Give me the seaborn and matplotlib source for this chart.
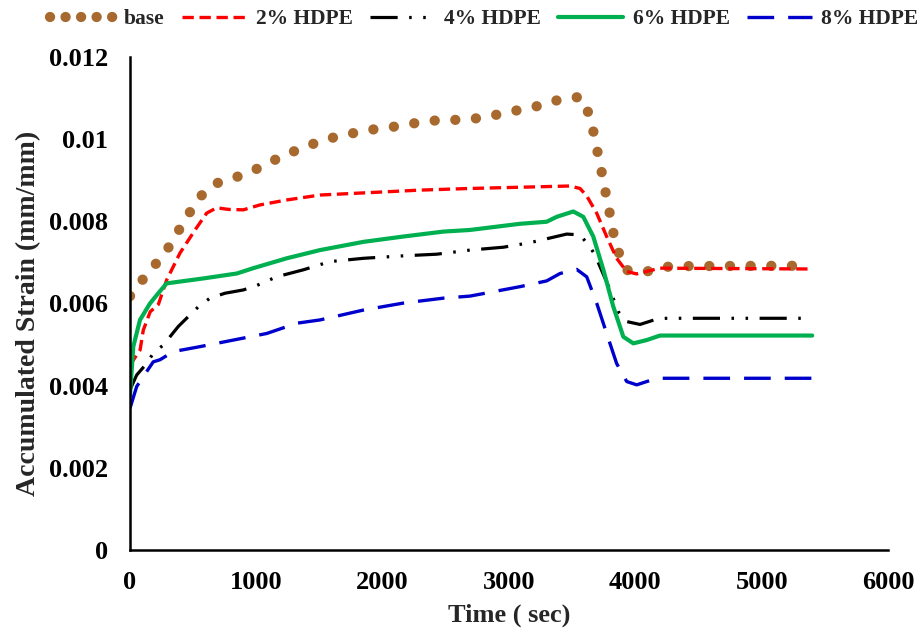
import matplotlib
matplotlib.use("Agg")
import matplotlib.pyplot as plt
from matplotlib.lines import Line2D
import seaborn as sns
import pandas as pd

# ---- data ----
base_t = [0, 100, 203, 298, 382, 465, 552, 667, 818, 966, 1108, 1253, 1401, 1551, 1702, 1855, 2013,
          2169, 2325, 2480, 2641, 2800, 2955, 3108, 3264, 3414, 3570, 3636, 3673, 3704, 3736, 3766,
          3797, 3826, 3868, 3918, 4069, 4219, 4377, 5400]
base_v = [0.00618, 0.00658, 0.00696, 0.00733, 0.00776, 0.00818, 0.00859, 0.00891, 0.00905, 0.00922,
          0.00944, 0.00965, 0.00983, 0.01000, 0.01010, 0.01021, 0.01027, 0.01034, 0.01043, 0.01047,
          0.01047, 0.01053, 0.01063, 0.01073, 0.01083, 0.01098, 0.01103, 0.01059, 0.01012, 0.00964,
          0.00916, 0.00868, 0.00820, 0.00772, 0.00725, 0.00682, 0.00676, 0.00689, 0.00691, 0.00692]

hdpe2_t = [0, 80, 105, 160, 225, 290, 396, 515, 607, 686, 780, 897, 1029, 1240, 1504, 1900, 2296,
           2691, 3087, 3483, 3562, 3615, 3694, 3773, 3852, 3931, 4010, 4195, 5400]
hdpe2_v = [0.00450, 0.00487, 0.00535, 0.00580, 0.00598, 0.00657, 0.00723, 0.00779, 0.00820, 0.00833,
           0.00829, 0.00828, 0.00840, 0.00852, 0.00864, 0.00870, 0.00876, 0.00880, 0.00883, 0.00886,
           0.00880, 0.00862, 0.00820, 0.00763, 0.00710, 0.00678, 0.00672, 0.00686, 0.00684]

hdpe4_t = [0, 53, 132, 184, 264, 382, 461, 541, 633, 752, 897, 997, 1161, 1372, 1583, 1847, 2163,
           2428, 2691, 2955, 3166, 3457, 3562, 3641, 3681, 3720, 3800, 3865, 3932, 4037, 4169, 4248, 5400]
hdpe4_v = [0.00390, 0.00426, 0.00454, 0.00479, 0.00499, 0.00544, 0.00568, 0.00592, 0.00613, 0.00625,
           0.00633, 0.00643, 0.00665, 0.00682, 0.00702, 0.00710, 0.00716, 0.00720, 0.00730, 0.00737,
           0.00748, 0.00769, 0.00767, 0.00738, 0.00718, 0.00690, 0.00633, 0.00580, 0.00556, 0.00549,
           0.00562, 0.00564, 0.00564]

hdpe6_t = [0, 26, 79, 158, 224, 290, 580, 845, 976, 1240, 1504, 1847, 2163, 2480, 2691, 3087, 3298,
           3378, 3509, 3588, 3667, 3747, 3826, 3905, 3984, 4090, 4195, 5400]
hdpe6_v = [0.00377, 0.00495, 0.00560, 0.00600, 0.00625, 0.00649, 0.00661, 0.00673, 0.00686, 0.00710,
           0.00730, 0.00750, 0.00763, 0.00775, 0.00779, 0.00794, 0.00799, 0.00811, 0.00824, 0.00811,
           0.00763, 0.00682, 0.00592, 0.00519, 0.00503, 0.00511, 0.00522, 0.00522]

hdpe8_t = [0, 53, 105, 184, 237, 343, 554, 818, 1082, 1320, 1504, 1847, 2163, 2480, 2691, 3087, 3298,
           3404, 3536, 3615, 3694, 3773, 3852, 3932, 4011, 4169, 5400]
hdpe8_v = [0.00345, 0.00398, 0.00422, 0.00458, 0.00463, 0.00483, 0.00495, 0.00511, 0.00527, 0.00552,
           0.00560, 0.00584, 0.00601, 0.00613, 0.00618, 0.00641, 0.00655, 0.00673, 0.00683, 0.00665,
           0.00601, 0.00527, 0.00454, 0.00410, 0.00402, 0.00418, 0.00418]

labels = ["base", "2% HDPE", "4% HDPE", "6% HDPE", "8% HDPE"]
x_ticks = [0, 1000, 2000, 3000, 4000, 5000, 6000]
y_ticks = [0, 0.002, 0.004, 0.006, 0.008, 0.010, 0.012]
y_tick_labels = ["0", "0.002", "0.004", "0.006", "0.008", "0.01", "0.012"]

# ---- styling ----
sns.set_style("white")
plt.rcParams["font.family"] = ["Liberation Serif", "DejaVu Serif"]
plt.rcParams["font.weight"] = "bold"

fig = plt.figure(figsize=(9.24, 6.37), dpi=100)
ax = fig.add_axes([130 / 924, 87 / 637, 758 / 924, 493 / 637])

series = [
    (base_t, base_v, dict(color="#A8692F", linewidth=7.4, linestyle=(0, (0.01, 2.0)),
                          dash_capstyle="round")),
    (hdpe2_t, hdpe2_v, dict(color="#FF0000", linewidth=2.4, linestyle=(0, (3.4, 1.7)))),
    (hdpe4_t, hdpe4_v, dict(color="#000000", linewidth=2.3,
                            linestyle=(0, (8.5, 3.6, 0.8, 3.6, 0.8, 3.6)))),
    (hdpe6_t, hdpe6_v, dict(color="#00B050", linewidth=3.0, linestyle="-")),
    (hdpe8_t, hdpe8_v, dict(color="#0000CC", linewidth=2.4, linestyle=(0, (8.0, 4.2)))),
]

for (t, v, kw), lab in zip(series, labels):
    df = pd.DataFrame({"t": t, "v": v})
    sns.lineplot(data=df, x="t", y="v", ax=ax, estimator=None, sort=False, label=lab, **kw)

ax.set_xlim(0, 6000)
ax.set_ylim(0, 0.012)
ax.set_xticks(x_ticks)
ax.set_xticklabels([str(x) for x in x_ticks])
ax.set_yticks(y_ticks)
ax.set_yticklabels(y_tick_labels)

for s in ["top", "right"]:
    ax.spines[s].set_visible(False)
for s in ["left", "bottom"]:
    ax.spines[s].set_linewidth(1.8)
    ax.spines[s].set_color("black")

ax.tick_params(axis="both", which="major", direction="out", length=5, width=1.6,
               labelsize=19, color="black", labelcolor="black")
ax.tick_params(axis="y", pad=11)
ax.tick_params(axis="x", pad=10)
for lbl in ax.get_xticklabels() + ax.get_yticklabels():
    lbl.set_fontweight("bold")

ax.set_xlabel("Time ( sec)", fontsize=19, fontweight="bold", labelpad=7)
ax.set_ylabel("Accumulated Strain (mm/mm)", fontsize=20, fontweight="bold")
ax.yaxis.set_label_coords(-0.117, 0.479)

# legend handles (base handle uses tighter dot spacing, as in the reference legend)
h, l = ax.get_legend_handles_labels()
h[0] = Line2D([], [], color="#A8692F", linewidth=7.4, linestyle=(0, (0.01, 1.5)),
              dash_capstyle="round")
ax.legend(h, l, loc="center", bbox_to_anchor=(484 / 924, 1 - 19 / 637),
          bbox_transform=fig.transFigure, ncol=5, frameon=False,
          prop=dict(family="Liberation Serif", weight="bold", size=15.5),
          handlelength=3.0, handletextpad=0.45, columnspacing=0.8)

fig.savefig("out.png", dpi=100)
